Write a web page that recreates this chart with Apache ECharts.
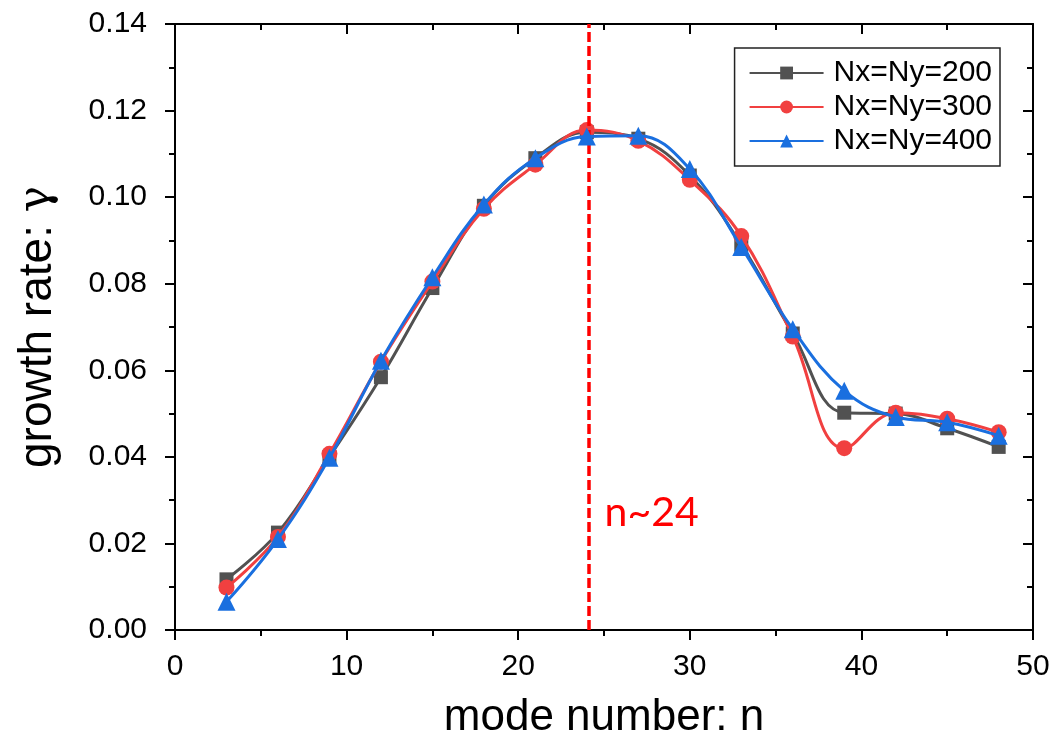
<!DOCTYPE html>
<html>
<head>
<meta charset="utf-8">
<script src="https://cdn.jsdelivr.net/npm/echarts@6/dist/echarts.min.js"></script>
<style>html,body{margin:0;padding:0;background:#fff}#c{width:1055px;height:745px}</style>
</head>
<body>
<div id="c"></div>
<script>
const modes = [3, 6, 9, 12, 15, 18, 21, 24, 27, 30, 33, 36, 39, 42, 45, 48];
const seriesNames = ['Nx=Ny=200', 'Nx=Ny=300', 'Nx=Ny=400'];
const gamma200 = [0.0117, 0.0225, 0.0400, 0.0584, 0.0790, 0.0980, 0.1090, 0.1150, 0.1135, 0.1050, 0.0890, 0.0685, 0.0502, 0.0500, 0.0466, 0.0423];
const gamma300 = [0.0098, 0.0215, 0.0407, 0.0620, 0.0805, 0.0973, 0.1075, 0.1155, 0.1130, 0.1040, 0.0910, 0.0678, 0.0420, 0.0502, 0.0488, 0.0457];
const gamma400 = [0.0065, 0.0210, 0.0398, 0.0622, 0.0815, 0.0983, 0.1090, 0.1140, 0.1142, 0.1065, 0.0885, 0.0695, 0.0553, 0.0492, 0.0480, 0.0449];
const peakMode = 24.1;
const peakLabel = 'n~24';
const peakLabelY = 0.027;

const colors = ['#515151', '#F14040', '#1A6FDF'];
const symbols = ['rect', 'circle', 'triangle'];
const sizes = [14, 16, 18];
const allData = [gamma200, gamma300, gamma400];

const chart = echarts.init(document.getElementById('c'), null, {renderer: 'canvas'});
const axisFont = 'Liberation Sans, Arial, sans-serif';

const series = allData.map((d, i) => ({
  name: seriesNames[i],
  type: 'line',
  xAxisIndex: 0, yAxisIndex: 0,
  data: modes.map((m, k) => [m, d[k]]),
  smooth: 0.4,
  symbol: symbols[i],
  symbolSize: sizes[i],
  itemStyle: {color: colors[i]},
  lineStyle: {color: colors[i], width: 3},
  z: 3 + i
}));

series[0].markLine = {
  silent: true,
  symbol: ['none', 'none'],
  label: {show: false},
  lineStyle: {color: '#FF0000', width: 3.5, type: [10, 4]},
  data: [{xAxis: peakMode}],
  animation: false
};
series[0].markPoint = {
  silent: true,
  symbol: 'circle',
  symbolSize: 0,
  data: [{coord: [peakMode, peakLabelY]}],
  label: {
    show: true, formatter: peakLabel, position: 'right', distance: 16,
    color: '#FF0000', fontSize: 41, fontFamily: 'Lato, Open Sans, sans-serif'
  },
  animation: false
};

const tickStyle = {color: '#000', width: 2};

chart.setOption({
  animation: false,
  backgroundColor: '#fff',
  grid: {left: 175, right: 22, top: 24, bottom: 105, containLabel: false},
  legend: {
    data: seriesNames,
    orient: 'vertical',
    right: 55, top: 48,
    itemWidth: 74, itemHeight: 16, itemGap: 4,
    padding: [10, 8, 10, 14],
    borderColor: '#222', borderWidth: 1.5, borderRadius: 0,
    backgroundColor: '#fff',
    textStyle: {fontSize: 30, lineHeight: 30, color: '#000', fontFamily: axisFont, padding: [0, 0, 0, 5]}
  },
  xAxis: [{
    type: 'value', min: 0, max: 50, interval: 10,
    name: 'mode number: n', nameLocation: 'middle', nameGap: 66,
    nameTextStyle: {fontSize: 44, color: '#000', fontFamily: axisFont},
    axisLine: {show: true, onZero: false, lineStyle: {color: '#000', width: 2}},
    axisTick: {show: true, length: 10, lineStyle: tickStyle},
    minorTick: {show: true, splitNumber: 2, length: 6, lineStyle: tickStyle},
    axisLabel: {fontSize: 30, color: '#000', fontFamily: axisFont, margin: 22},
    splitLine: {show: false}
  }, {
    type: 'value', min: 0, max: 50, interval: 10, position: 'top',
    axisLine: {show: true, onZero: false, lineStyle: {color: '#000', width: 2}},
    axisTick: {show: true, inside: true, length: 10, lineStyle: tickStyle},
    minorTick: {show: true, splitNumber: 2, length: 6, lineStyle: tickStyle},
    axisLabel: {show: false}, splitLine: {show: false}
  }],
  yAxis: [{
    type: 'value', min: 0, max: 0.14, interval: 0.02,
    name: 'growth rate: {g|γ}', nameLocation: 'middle', nameGap: 114,
    nameTextStyle: {fontSize: 46, color: '#000', fontFamily: axisFont,
      rich: {g: {fontSize: 44, color: '#000', fontFamily: 'DejaVu Serif, Liberation Serif, serif'}}},
    axisLine: {show: true, onZero: false, lineStyle: {color: '#000', width: 2}},
    axisTick: {show: true, length: 10, lineStyle: tickStyle},
    minorTick: {show: true, splitNumber: 2, length: 6, lineStyle: tickStyle},
    axisLabel: {fontSize: 30, color: '#000', fontFamily: axisFont, margin: 28,
      formatter: v => v.toFixed(2)},
    splitLine: {show: false}
  }, {
    type: 'value', min: 0, max: 0.14, interval: 0.02, position: 'right',
    axisLine: {show: true, onZero: false, lineStyle: {color: '#000', width: 2}},
    axisTick: {show: true, inside: true, length: 10, lineStyle: tickStyle},
    minorTick: {show: true, splitNumber: 2, length: 6, lineStyle: tickStyle},
    axisLabel: {show: false}, splitLine: {show: false}
  }],
  series: series
});
</script>
</body>
</html>
